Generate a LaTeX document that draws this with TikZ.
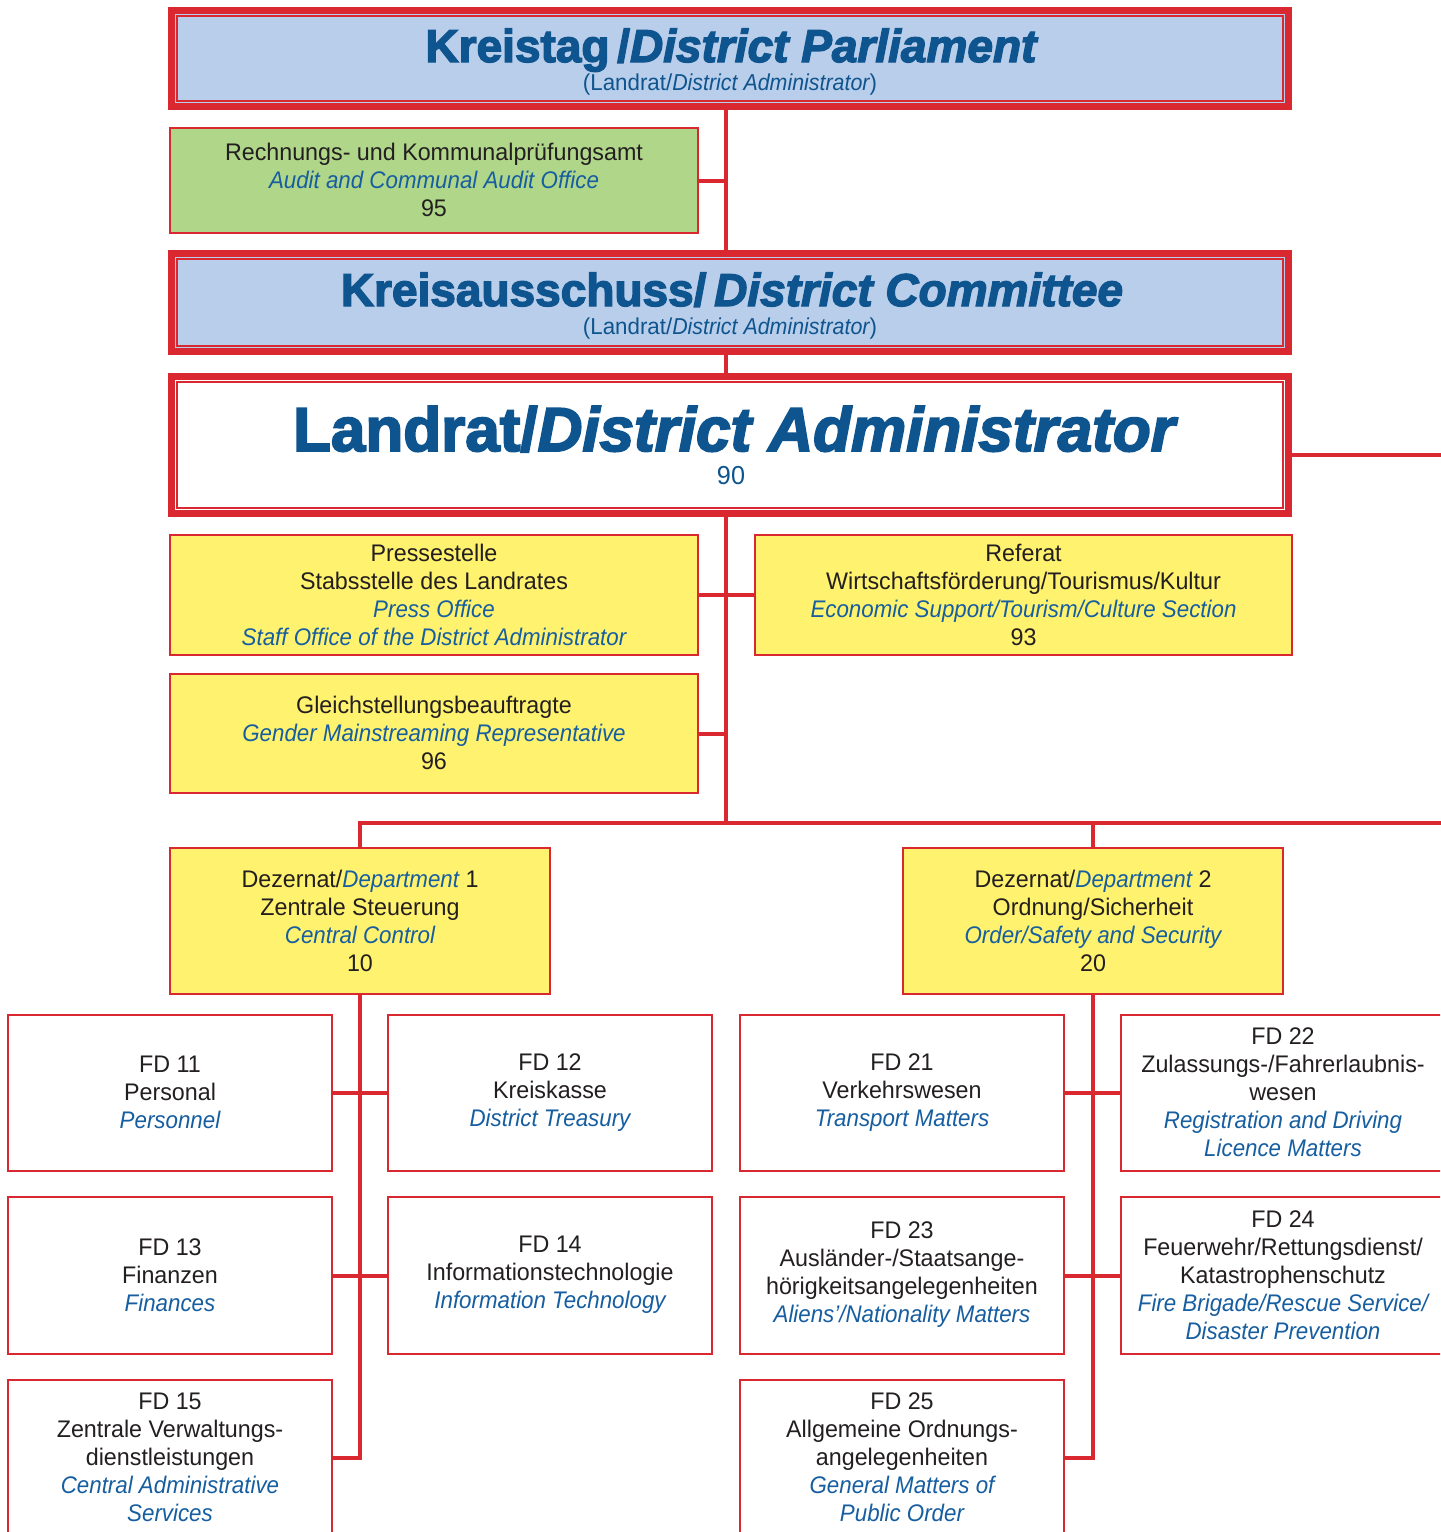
\documentclass[tikz,border=0pt]{standalone}
\usepackage{fontspec}
\setmainfont{Liberation Sans}[FakeStretch=0.97]
\newfontfamily\itf{Liberation Sans}[FakeStretch=0.93]
\newfontfamily\heavy{Liberation Sans}[BoldFeatures={FakeBold=3},BoldItalicFeatures={FakeBold=3}]
\usetikzlibrary{fit,backgrounds}
\definecolor{kred}{RGB}{218,40,48}
\definecolor{kblue}{RGB}{185,206,234}
\definecolor{kgreen}{RGB}{176,214,137}
\definecolor{kyellow}{RGB}{255,242,110}
\definecolor{tblue}{RGB}{14,84,142}
\definecolor{iblue}{RGB}{22,94,160}
\definecolor{kblack}{RGB}{35,31,32}
\newcommand\en[1]{{\itf\itshape\color{iblue}#1}}
\newcommand\iti[1]{{\itshape #1}}
% box node + its text node (name, style, fit corners, text)
\newcommand\unitbox[4]{%
  \node[#2, fit={#3}] (#1) {};
  \node[unittext] (#1-t) at ([yshift=0.4pt]#1.center) {#4};}
\begin{document}
\begin{tikzpicture}[x=0.75pt,y=-0.75pt,
  hdr/.style={draw=kred, line width=5pt, inner sep=0pt},
  innerline/.style={draw=kred, line width=1.5pt},
  unit/.style={draw=kred, line width=1.5pt, inner sep=0pt},
  unittext/.style={inner sep=0pt, align=center, text=kblack,
    font=\fontsize{18}{21}\selectfont},
  stab/.style={unit, fill=kyellow},
  audit/.style={unit, fill=kgreen},
  fdbox/.style={unit, fill=white},
  link/.style={draw=kred, line width=3pt},
  ttl/.style={text=tblue, inner sep=0pt, anchor=base},
  bigfont/.style={font={\heavy\bfseries\fontsize{34.5}{36}\selectfont}},
  hugefont/.style={font={\heavy\bfseries\fontsize{46.5}{48}\selectfont}},
  subfont/.style={font={\fontsize{17.25}{19}\selectfont}},
]
\useasboundingbox (0,0) rectangle (1440,1532);
\clip (0,0) rectangle (1440,1532);

% header boxes
\node[hdr, fill=kblue, fit={(171.5,10.5)(1288.5,106.5)}] (kt) {};
\draw[innerline] ([shift={(8.5,8.5)}]kt.north west) rectangle ([shift={(-8.5,-8.5)}]kt.south east);
\node[ttl, bigfont] (ktt) at (731,62) {Kreistag\,/\iti{District Parliament}};
\node[ttl, subfont] (kts) at (730,90) {(Landrat/{\itf\iti{District Administrator}})};

\node[hdr, fill=kblue, fit={(171.5,253.5)(1288.5,351.5)}] (ka) {};
\draw[innerline] ([shift={(8.5,8.5)}]ka.north west) rectangle ([shift={(-8.5,-8.5)}]ka.south east);
\node[ttl, bigfont] (kat) at (732,306) {Kreisausschuss/\iti{\,District Committee}};
\node[ttl, subfont] (kas) at (730,334) {(Landrat/{\itf\iti{District Administrator}})};

\node[hdr, fill=white, fit={(171.5,376.5)(1288.5,513.5)}] (lr) {};
\draw[innerline] ([shift={(8.5,8.5)}]lr.north west) rectangle ([shift={(-8.5,-8.5)}]lr.south east);
\node[ttl, hugefont] (lrt) at (734,451) {Landrat/\iti{District Administrator}};
\node[ttl, font={\fontsize{19.5}{21}\selectfont}] (lrn) at (731,484) {90};

% staff units
\unitbox{aud}{audit}{(170,128)(698,233)}{Rechnungs- und Kommunalprüfungsamt\\\en{Audit and Communal Audit Office}\\95}
\unitbox{ps}{stab}{(170,535)(698,655)}{Pressestelle\\Stabsstelle des Landrates\\\en{Press Office}\\\en{Staff Office of the District Administrator}}
\unitbox{rf}{stab}{(755,535)(1292,655)}{Referat\\Wirtschaftsförderung/Tourismus/Kultur\\\en{Economic Support/Tourism/Culture Section}\\93}
\unitbox{gl}{stab}{(170,674)(698,793)}{Gleichstellungsbeauftragte\\\en{Gender Mainstreaming Representative}\\96}

% departments
\unitbox{d1}{stab}{(170,848)(550,994)}{Dezernat/\en{Department} 1\\Zentrale Steuerung\\\en{Central Control}\\10}
\unitbox{d2}{stab}{(903,848)(1283,994)}{Dezernat/\en{Department} 2\\Ordnung/Sicherheit\\\en{Order/Safety and Security}\\20}

% FD boxes
\unitbox{f11}{fdbox}{(8,1015)(332,1171)}{FD 11\\Personal\\\en{Personnel}}
\unitbox{f12}{fdbox}{(388,1015)(712,1171)}{FD 12\\Kreiskasse\\\en{District Treasury}}
\unitbox{f13}{fdbox}{(8,1197)(332,1354)}{FD 13\\Finanzen\\\en{Finances}}
\unitbox{f14}{fdbox}{(388,1197)(712,1354)}{FD 14\\Informationstechnologie\\\en{Information Technology}}
\unitbox{f15}{fdbox}{(8,1380)(332,1536)}{FD 15\\Zentrale Verwaltungs-\\dienstleistungen\\\en{Central Administrative}\\\en{Services}}
\unitbox{f21}{fdbox}{(740,1015)(1064,1171)}{FD 21\\Verkehrswesen\\\en{Transport Matters}}
\unitbox{f22}{fdbox}{(1121,1015)(1445,1171)}{FD 22\\Zulassungs-/Fahrerlaubnis-\\wesen\\\en{Registration and Driving}\\\en{Licence Matters}}
\unitbox{f23}{fdbox}{(740,1197)(1064,1354)}{FD 23\\Ausländer-/Staatsange-\\hörigkeitsangelegenheiten\\\en{Aliens’/Nationality Matters}}
\unitbox{f24}{fdbox}{(1121,1197)(1445,1354)}{FD 24\\Feuerwehr/Rettungsdienst/\\Katastrophenschutz\\\en{Fire Brigade/Rescue Service/}\\\en{Disaster Prevention}}
\unitbox{f25}{fdbox}{(740,1380)(1064,1536)}{FD 25\\Allgemeine Ordnungs-\\angelegenheiten\\\en{General Matters of}\\\en{Public Order}}

\coordinate (tx) at (726,0);
\coordinate (bus) at (726,823);
\coordinate (busr) at (1450,823);
\coordinate (rl) at (1450,455);

\begin{scope}[on background layer]
\draw[link] (kt.south -| tx) -- (ka.north -| tx);
\draw[link] (aud.east) -- (aud.east -| tx);
\draw[link] (ka.south -| tx) -- (lr.north -| tx);
\draw[link] (lr.south -| tx) -- (bus);
\draw[link] (lr.east |- rl) -- (rl);
\draw[link] (ps.east) -- (rf.west);
\draw[link] (gl.east) -- (gl.east -| tx);
\draw[link] (d1.north) -- (d1.north |- bus) -- (busr);
\draw[link] (d2.north) -- (d2.north |- bus);
\draw[link] (d1.south) -- (d1.south |- f15.east) -- (f15.east);
\draw[link] (f11.east) -- (f12.west);
\draw[link] (f13.east) -- (f14.west);
\draw[link] (d2.south) -- (d2.south |- f25.east) -- (f25.east);
\draw[link] (f21.east) -- (f22.west);
\draw[link] (f23.east) -- (f24.west);
\end{scope}
\end{tikzpicture}
\end{document}
